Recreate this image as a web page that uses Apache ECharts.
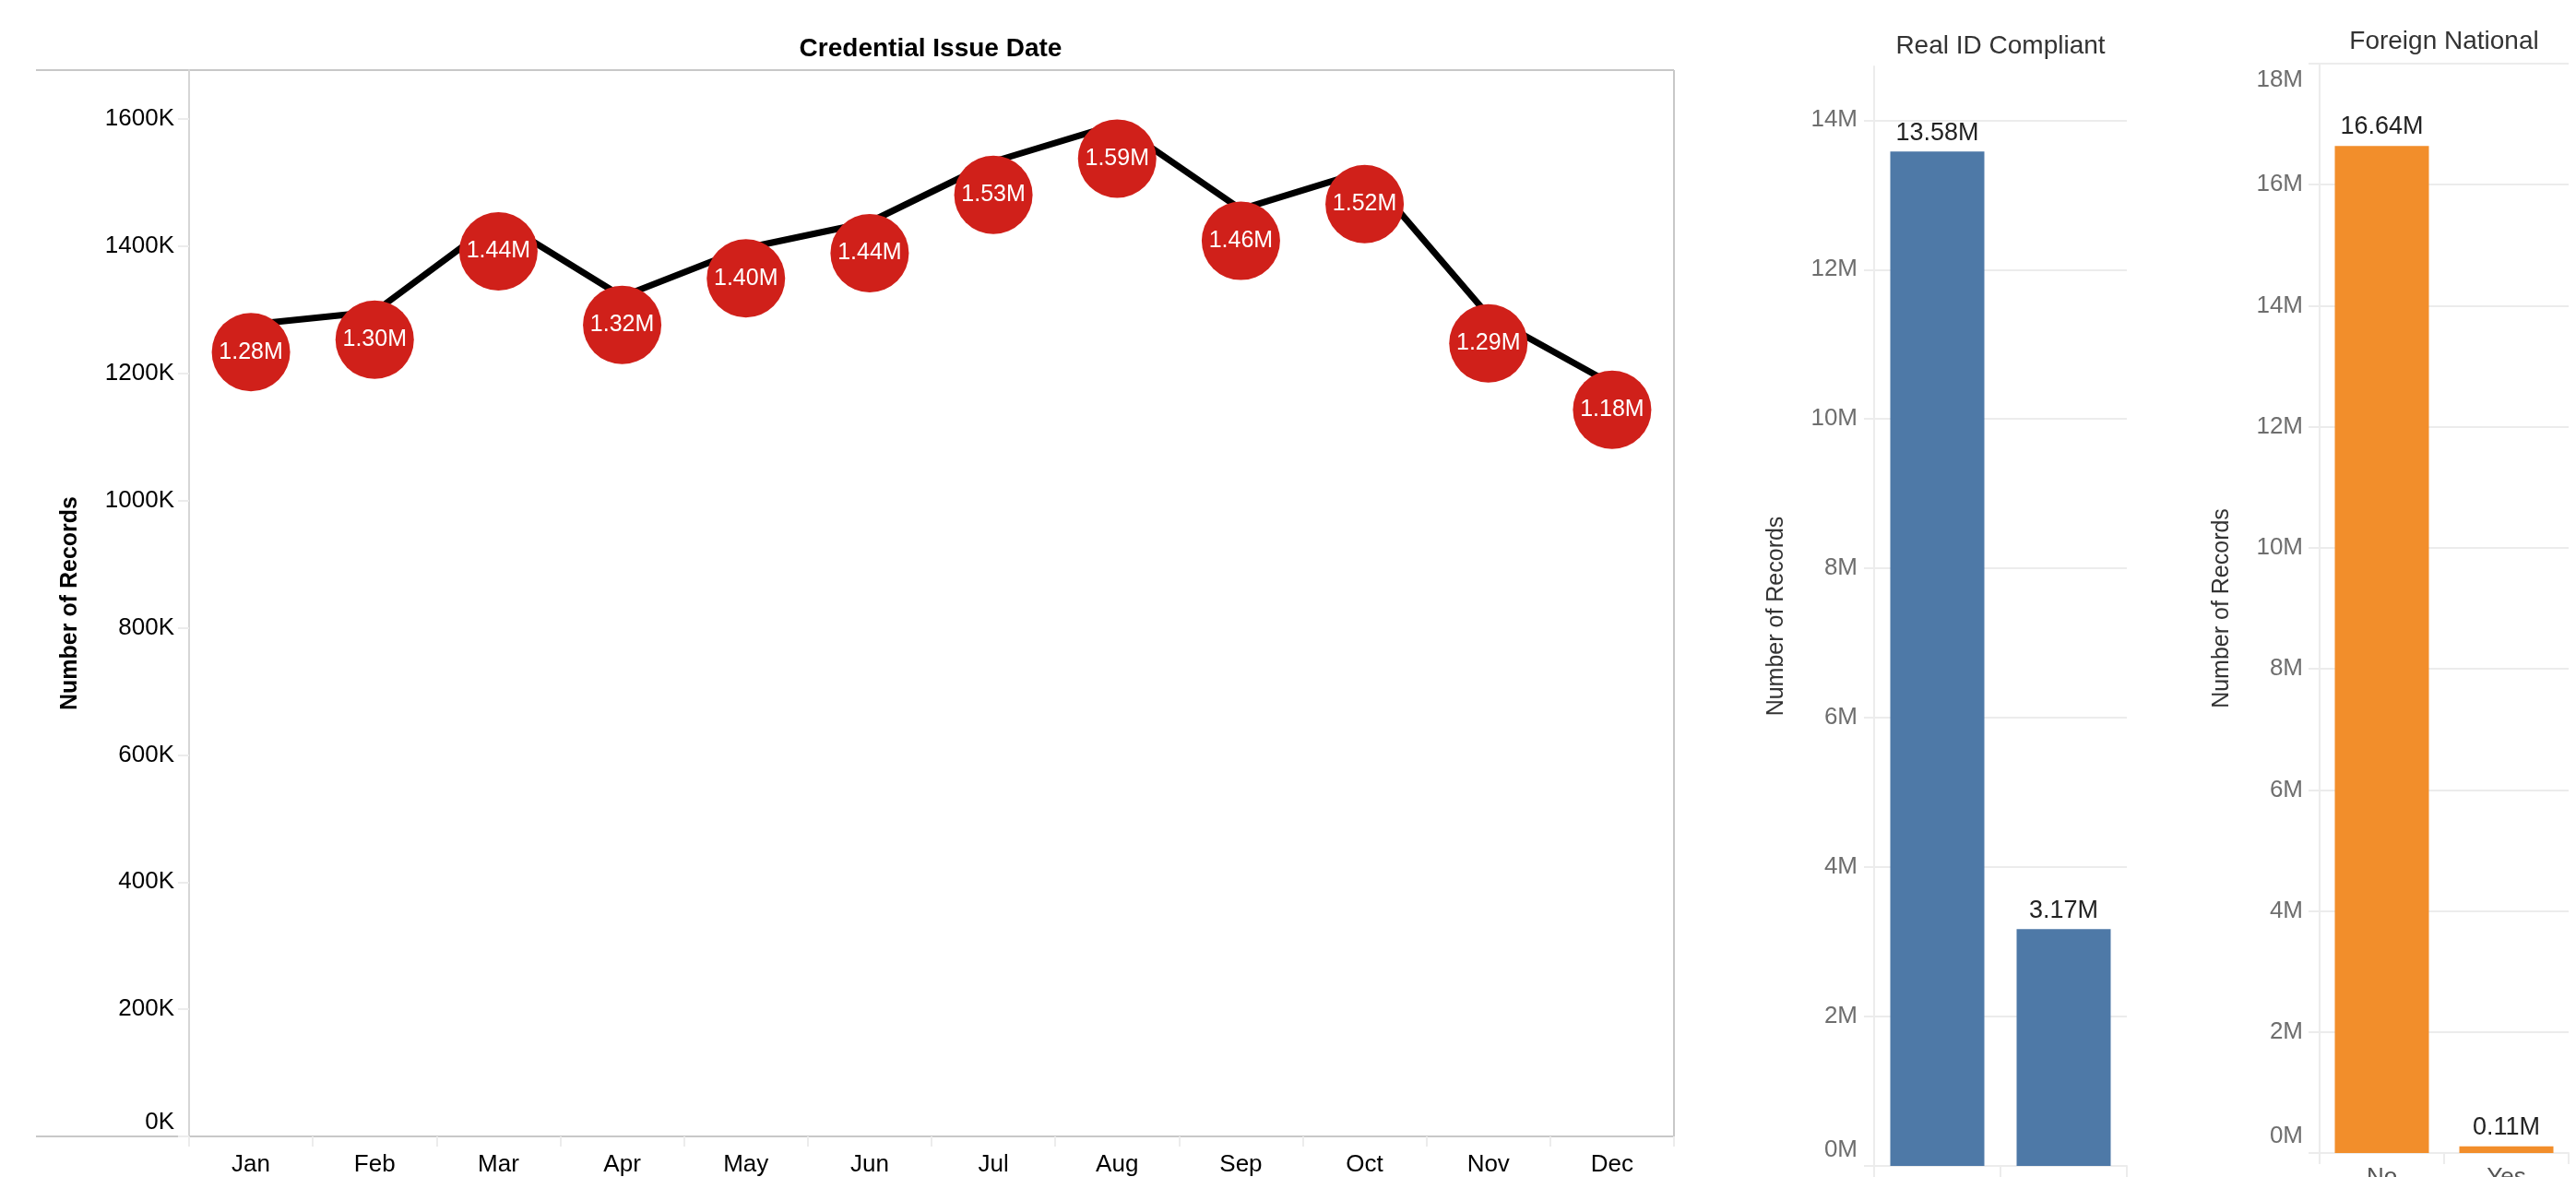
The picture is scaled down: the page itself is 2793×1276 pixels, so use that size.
<!DOCTYPE html>
<html>
<head>
<meta charset="utf-8">
<script src="https://cdn.jsdelivr.net/npm/echarts@6/dist/echarts.min.js"></script>
<style>
  html, body { margin: 0; padding: 0; background: #fff; }
  #chart { width: 2793px; height: 1276px; }
</style>
</head>
<body>
<div id="chart"></div>
<script>
// monthly credential issues
const months = ['Jan', 'Feb', 'Mar', 'Apr', 'May', 'Jun', 'Jul', 'Aug', 'Sep', 'Oct', 'Nov', 'Dec'];
const monthlyRecords = [1277000, 1297000, 1441000, 1321000, 1397000, 1438000, 1533000, 1592000, 1458000, 1518000, 1291000, 1183000];

const realIdCats = ['No', 'Yes'];
const realIdRecords = [13580000, 3170000];

const foreignCats = ['No', 'Yes'];
const foreignRecords = [16640000, 110000];

const FONT = "'Liberation Sans', Arial, sans-serif";
const fmtM = v => (v / 1e6).toFixed(2) + 'M';

// tableau keeps the end labels inside the pane, so nudge them with rich padding
function edgeFormatter(unit, div, maxVal) {
  return function (value) {
    const t = Math.round(value / div) + unit;
    if (value === 0) return '{lo|' + t + '}';
    if (maxVal !== undefined && value === maxVal) return '{hi|' + t + '}';
    return t;
  };
}
function edgeRich(size, color, lo, hi) {
  return {
    lo: { fontSize: size, color: color, fontFamily: FONT, padding: [0, 0, lo * 2, 0] },
    hi: { fontSize: size, color: color, fontFamily: FONT, padding: [hi * 2, 0, 0, 0] }
  };
}

const chart = echarts.init(document.getElementById('chart'));

const faint = '#ececec';

const option = {
  animation: false,
  backgroundColor: '#fff',
  textStyle: { fontFamily: FONT },
  graphic: [
    { type: 'line', shape: { x1: 39, y1: 76, x2: 1815, y2: 76 }, style: { stroke: '#c8c8c8', lineWidth: 2 } },
    { type: 'line', shape: { x1: 39, y1: 1232, x2: 1815, y2: 1232 }, style: { stroke: '#c8c8c8', lineWidth: 2 } },
    { type: 'line', shape: { x1: 1815, y1: 76, x2: 1815, y2: 1232 }, style: { stroke: '#c8c8c8', lineWidth: 2 } },
    { type: 'text', x: 1009, y: 53, style: { text: 'Credential Issue Date', fontSize: 28, fontWeight: 'bold', fontFamily: FONT, fill: '#000', align: 'center', verticalAlign: 'middle' } },
    { type: 'text', x: 2169, y: 50, style: { text: 'Real ID Compliant', fontSize: 28, fontFamily: FONT, fill: '#333', align: 'center', verticalAlign: 'middle' } },
    { type: 'text', x: 2650, y: 45, style: { text: 'Foreign National', fontSize: 28, fontFamily: FONT, fill: '#333', align: 'center', verticalAlign: 'middle' } }
  ],
  grid: [
    { left: 205, right: 978, top: 76, bottom: 44, outerBoundsMode: 'none' },
    { left: 2032, right: 487, top: 72, bottom: 12, outerBoundsMode: 'none' },
    { left: 2515, right: 8, top: 69, bottom: 26, outerBoundsMode: 'none' }
  ],
  xAxis: [
    {
      type: 'category', gridIndex: 0, data: months,
      axisLine: { lineStyle: { color: '#c8c8c8', width: 2 } },
      axisTick: { show: true, length: 11, lineStyle: { color: faint, width: 2 } },
      axisLabel: { fontSize: 26, color: '#000', margin: 18 }
    },
    {
      type: 'category', gridIndex: 1, data: realIdCats,
      axisLine: { lineStyle: { color: faint, width: 2 } },
      axisTick: { show: true, length: 12, lineStyle: { color: faint, width: 2 } },
      axisLabel: { fontSize: 26, color: '#555', margin: 14 }
    },
    {
      type: 'category', gridIndex: 2, data: foreignCats,
      axisLine: { lineStyle: { color: faint, width: 2 } },
      axisTick: { show: true, length: 12, lineStyle: { color: faint, width: 2 } },
      axisLabel: { fontSize: 26, color: '#555', margin: 14 }
    }
  ],
  yAxis: [
    {
      type: 'value', gridIndex: 0, min: 0, max: 1677000, interval: 200000,
      name: 'Number of Records', nameLocation: 'middle', nameGap: 116,
      nameTextStyle: { fontSize: 25, fontWeight: 'bold', color: '#000' },
      axisLine: { show: true, lineStyle: { color: '#d6d6d6', width: 2 } },
      axisTick: { show: true, length: 12, lineStyle: { color: faint, width: 2 } },
      splitLine: { show: false },
      axisLabel: { fontSize: 26, color: '#000', margin: 16, showMaxLabel: false,
        formatter: edgeFormatter('K', 1000), rich: edgeRich(26, '#000', 15, 0) }
    },
    {
      // circles sit on their own, unsynced axis
      type: 'value', gridIndex: 0, min: 0, max: 1736000, show: false
    },
    {
      type: 'value', gridIndex: 1, min: 0, max: 14720000, interval: 2000000,
      name: 'Number of Records', nameLocation: 'middle', nameGap: 93,
      nameTextStyle: { fontSize: 25, color: '#333' },
      axisLine: { show: true, lineStyle: { color: faint, width: 2 } },
      axisTick: { show: true, length: 11, lineStyle: { color: faint, width: 2 } },
      splitLine: { show: true, showMaxLine: false, lineStyle: { color: faint, width: 2 } },
      axisLabel: { fontSize: 26, color: '#6e6e6e', margin: 18, showMaxLabel: false,
        formatter: edgeFormatter('M', 1e6), rich: edgeRich(26, '#6e6e6e', 17, 0) }
    },
    {
      type: 'value', gridIndex: 2, min: 0, max: 18000000, interval: 2000000,
      name: 'Number of Records', nameLocation: 'middle', nameGap: 93,
      nameTextStyle: { fontSize: 25, color: '#333' },
      axisLine: { show: true, lineStyle: { color: faint, width: 2 } },
      axisTick: { show: true, length: 12, lineStyle: { color: faint, width: 2 } },
      splitLine: { show: true, lineStyle: { color: faint, width: 2 } },
      axisLabel: { fontSize: 26, color: '#6e6e6e', margin: 18,
        formatter: edgeFormatter('M', 1e6, 18000000), rich: edgeRich(26, '#6e6e6e', 18, 18) }
    }
  ],
  series: [
    {
      type: 'line', xAxisIndex: 0, yAxisIndex: 0, data: monthlyRecords,
      symbol: 'none', z: 2,
      lineStyle: { color: '#000', width: 7 }
    },
    {
      type: 'scatter', xAxisIndex: 0, yAxisIndex: 1, data: monthlyRecords,
      symbolSize: 85, z: 3,
      itemStyle: { color: '#d0201a', opacity: 1 },
      label: { show: true, position: 'inside', color: '#fff', fontSize: 25, formatter: p => fmtM(p.value) }
    },
    {
      type: 'bar', xAxisIndex: 1, yAxisIndex: 2, data: realIdRecords,
      barWidth: 102, itemStyle: { color: '#4e79a7' },
      label: { show: true, position: 'top', distance: 6, fontSize: 27, color: '#222', formatter: p => fmtM(p.value) }
    },
    {
      type: 'bar', xAxisIndex: 2, yAxisIndex: 3, data: foreignRecords,
      barWidth: 102, itemStyle: { color: '#f28e2b' },
      label: { show: true, position: 'top', distance: 7, fontSize: 27, color: '#222', formatter: p => fmtM(p.value) }
    }
  ]
};

chart.setOption(option);
</script>
</body>
</html>
